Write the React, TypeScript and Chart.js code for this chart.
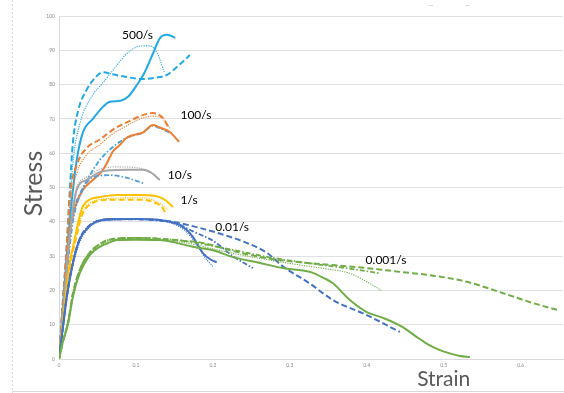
import { useEffect, useRef } from 'react';
import { Chart, registerables } from 'chart.js';

Chart.register(...registerables);

type P = [number, number];

// ---- tick values ----
const xTickValues = [0, 0.1, 0.2, 0.3, 0.4, 0.5, 0.6];
const yTickValues = [0, 10, 20, 30, 40, 50, 60, 70, 80, 90, 100];
const xMax = 0.655;

// ---- 500/s ----
const r500Solid: P[] = [[0,0],[0.005,15],[0.01,30],[0.014,40],[0.018,49],[0.023,58],[0.031,66],[0.044,70],[0.057,73.5],[0.066,75],[0.08,75.3],[0.09,76.5],[0.1,79.5],[0.11,83],[0.122,89],[0.131,93.5],[0.14,94.5],[0.148,94],[0.151,93.6]];
const r500Dashed: P[] = [[0,0],[0.005,17],[0.01,33],[0.014,49],[0.018,63],[0.025,72.5],[0.036,78.5],[0.047,82],[0.057,83.6],[0.07,83],[0.088,82.2],[0.109,81.6],[0.125,82],[0.14,82.8],[0.155,85.5],[0.17,88.6]];
const r500Dotted: P[] = [[0,0],[0.005,15],[0.01,30],[0.018,57],[0.027,68.5],[0.044,77],[0.057,80.5],[0.066,83],[0.088,89],[0.105,91.2],[0.118,91.3],[0.128,89],[0.137,83.5]];

// ---- 100/s ----
const r100Solid: P[] = [[0,0],[0.005,13],[0.01,26],[0.014,36.5],[0.021,44.3],[0.031,49.3],[0.044,52.2],[0.055,54.5],[0.062,57],[0.07,60.5],[0.079,62.4],[0.088,64.5],[0.1,65.5],[0.109,66],[0.122,68.2],[0.131,67.5],[0.144,66.2],[0.156,63.3]];
const r100Dashed: P[] = [[0,0],[0.005,16],[0.01,32],[0.014,47],[0.023,56.5],[0.036,61.5],[0.053,64],[0.066,66.2],[0.075,67.6],[0.088,69],[0.109,71.1],[0.122,71.7],[0.135,70.3],[0.142,67.6]];
const r100Dotted: P[] = [[0,0],[0.005,15],[0.01,30],[0.014,44],[0.023,54],[0.036,59.5],[0.053,62.5],[0.066,65],[0.088,68],[0.109,70.3],[0.122,70.8],[0.135,70],[0.144,67.3]];
const r100DashDot: P[] = [[0,0],[0.005,13],[0.01,25],[0.018,42],[0.027,48],[0.036,52],[0.053,58],[0.07,61.8],[0.088,64.5],[0.109,66],[0.122,68],[0.131,67.3],[0.144,66]];

// ---- 10/s ----
const r10Solid: P[] = [[0,0],[0.005,13],[0.01,26],[0.015,38],[0.023,49.3],[0.036,52.2],[0.053,54.5],[0.066,55],[0.088,55.2],[0.109,55.2],[0.12,54.3],[0.131,52.2]];
const r10Dotted: P[] = [[0,0],[0.005,13],[0.01,27],[0.015,40],[0.023,50],[0.036,53],[0.053,55.3],[0.075,56],[0.1,55.8],[0.115,55],[0.125,53.6]];
const r10DashDot: P[] = [[0,0],[0.005,12],[0.01,24],[0.018,40],[0.03,49],[0.044,53],[0.066,53.6],[0.088,52.8],[0.105,51.6],[0.11,51.2]];

// ---- 1/s ----
const r1Solid: P[] = [[0,0],[0.005,11],[0.01,21],[0.014,28],[0.021,35.6],[0.026,41],[0.031,44.5],[0.04,46.5],[0.053,47.2],[0.075,47.8],[0.109,47.8],[0.131,47.2],[0.14,46],[0.148,44.3]];
const r1Dashed: P[] = [[0,0],[0.005,10],[0.01,20],[0.015,28],[0.022,35],[0.03,42],[0.04,45],[0.066,46.4],[0.109,46.4],[0.125,45.5],[0.135,44],[0.138,42.6]];
const r1Dotted: P[] = [[0,0],[0.005,10.5],[0.01,20.5],[0.015,29],[0.022,36],[0.03,42.5],[0.04,45.5],[0.066,46.8],[0.109,47],[0.13,45.5],[0.142,43.5]];

// ---- 0.01/s ----
const r001Solid: P[] = [[0,0],[0.005,9],[0.01,18],[0.018,28],[0.027,35],[0.036,37.8],[0.044,39.5],[0.066,40.8],[0.1,40.8],[0.131,40.5],[0.153,39.4],[0.165,37.8],[0.174,35.6],[0.187,30.9],[0.197,29],[0.205,28.2]];
const r001Dotted: P[] = [[0,0],[0.005,9],[0.01,17],[0.018,27],[0.027,34],[0.036,37.5],[0.044,39.2],[0.066,40.5],[0.1,40.7],[0.131,40.3],[0.153,39],[0.168,36.5],[0.18,33],[0.19,29.5],[0.2,27]];
const r001Dashed: P[] = [[0,0],[0.005,9],[0.01,18],[0.018,28],[0.027,35],[0.04,39],[0.066,40.7],[0.1,40.8],[0.131,40.5],[0.153,39.8],[0.183,38.2],[0.21,36.5],[0.24,34.2],[0.27,31],[0.291,27],[0.326,22],[0.356,17.2],[0.4,12.8],[0.443,7.9]];
const r001DashDot: P[] = [[0,0],[0.005,9],[0.01,18],[0.018,28],[0.027,35],[0.04,39],[0.066,40.6],[0.1,40.7],[0.131,40.3],[0.153,39.5],[0.174,37.2],[0.2,34.5],[0.226,30],[0.252,26.5]];

// ---- 0.001/s ----
const r0001Solid: P[] = [[0,0],[0.005,5],[0.012,10.5],[0.018,18],[0.027,25],[0.04,30.3],[0.053,32.7],[0.066,34],[0.075,34.7],[0.1,34.8],[0.131,34.7],[0.15,34],[0.174,32.7],[0.2,31.7],[0.226,29.7],[0.261,28],[0.291,26.5],[0.326,25.4],[0.345,23.5],[0.356,22.1],[0.378,17.2],[0.4,13.7],[0.421,12],[0.445,9.5],[0.465,6.4],[0.48,4.2],[0.495,2.6],[0.51,1.5],[0.521,0.9],[0.534,0.6]];
const r0001Dashed: P[] = [[0,0],[0.005,5],[0.012,11],[0.018,19],[0.027,26],[0.04,31],[0.053,33.5],[0.066,34.8],[0.1,35.3],[0.131,35],[0.16,34.5],[0.183,34],[0.226,31.5],[0.27,29.4],[0.313,28.2],[0.356,27.4],[0.4,26.5],[0.443,25.4],[0.49,24.2],[0.53,22.5],[0.573,19.5],[0.616,16.3],[0.648,14.3]];
const r0001DashDot: P[] = [[0,0],[0.005,5],[0.012,11],[0.018,19],[0.027,26],[0.04,31],[0.053,33.5],[0.066,34.8],[0.1,35.3],[0.16,34.5],[0.226,31.8],[0.27,29.8],[0.313,28.3],[0.356,27],[0.4,25.6],[0.416,25]];
const r0001Dotted: P[] = [[0,0],[0.005,5],[0.012,10.8],[0.018,18.5],[0.027,25.5],[0.04,30.6],[0.053,33],[0.066,34.5],[0.1,35],[0.16,34],[0.226,30.8],[0.27,29],[0.313,27.4],[0.35,26.2],[0.378,25],[0.4,22.5],[0.419,20]];

// ---- annotations ----
const rateLabels = ['500/s', '100/s', '10/s', '1/s', '0.01/s', '0.001/s'];
const rateLabelX = [0.102, 0.178, 0.157, 0.169, 0.225, 0.425];
const rateLabelY = [94.5, 71.1, 53.6, 46.4, 38.5, 28.9];
const xTitle = 'Strain';
const yTitle = 'Stress';

const C500 = '#21A9E6';
const C100 = '#ED7D31';
const C10 = '#A5A5A5';
const C1 = '#FFC000';
const C001 = '#4472C4';
const C0001 = '#70AD47';
const CBLUE2 = '#3DA2DF';
const CBLUE3 = '#5B9BD5';

const STYLES: Record<string, { w: number; dash: number[] }> = {
  solid: { w: 2, dash: [] },
  dashed: { w: 2, dash: [6, 3] },
  dotted: { w: 1.1, dash: [1.2, 1.2] },
  dashdot: { w: 1.8, dash: [5, 2, 1.5, 2] },
};

const seriesList: { data: P[]; color: string; style: string }[] = [
  { data: r0001Solid, color: C0001, style: 'solid' },
  { data: r0001Dashed, color: C0001, style: 'dashed' },
  { data: r0001DashDot, color: C0001, style: 'dashdot' },
  { data: r0001Dotted, color: C0001, style: 'dotted' },
  { data: r001Solid, color: C001, style: 'solid' },
  { data: r001Dotted, color: C001, style: 'dotted' },
  { data: r001Dashed, color: C001, style: 'dashed' },
  { data: r001DashDot, color: C001, style: 'dashdot' },
  { data: r1Solid, color: C1, style: 'solid' },
  { data: r1Dashed, color: C1, style: 'dashed' },
  { data: r1Dotted, color: C1, style: 'dotted' },
  { data: r10Solid, color: C10, style: 'solid' },
  { data: r10Dotted, color: C10, style: 'dotted' },
  { data: r10DashDot, color: CBLUE3, style: 'dashdot' },
  { data: r100Solid, color: C100, style: 'solid' },
  { data: r100DashDot, color: CBLUE2, style: 'dashdot' },
  { data: r100Dashed, color: C100, style: 'dashed' },
  { data: r100Dotted, color: C100, style: 'dotted' },
  { data: r500Solid, color: C500, style: 'solid' },
  { data: r500Dashed, color: C500, style: 'dashed' },
  { data: r500Dotted, color: C500, style: 'dotted' },
];

const overlay = {
  id: 'overlay',
  beforeDraw(chart: any) {
    const ctx = chart.ctx as CanvasRenderingContext2D;
    ctx.save();
    ctx.fillStyle = '#ffffff';
    ctx.fillRect(0, 0, chart.width, chart.height);
    ctx.strokeStyle = '#d9d9d9';
    ctx.lineWidth = 1;
    ctx.setLineDash([2, 2]);
    ctx.beginPath();
    ctx.moveTo(12.5, 0);
    ctx.lineTo(12.5, chart.height);
    ctx.stroke();
    ctx.setLineDash([]);
    ctx.beginPath();
    ctx.moveTo(12, chart.height - 1.5);
    ctx.lineTo(chart.width, chart.height - 1.5);
    ctx.stroke();
    ctx.restore();
  },
  afterDraw(chart: any) {
    const ctx = chart.ctx as CanvasRenderingContext2D;
    const xs = chart.scales.x;
    const ys = chart.scales.y;
    const area = chart.chartArea;
    ctx.save();
    ctx.fillStyle = '#000000';
    ctx.font = '12px Lato';
    ctx.textAlign = 'center';
    ctx.textBaseline = 'middle';
    rateLabels.forEach((t, i) => {
      ctx.fillText(t, xs.getPixelForValue(rateLabelX[i]), ys.getPixelForValue(rateLabelY[i]));
    });
    ctx.fillStyle = '#595959';
    ctx.font = '21px Lato';
    ctx.fillText(xTitle, xs.getPixelForValue(0.5), area.bottom + 20);
    ctx.save();
    ctx.translate(area.left - 25, (area.top + area.bottom) / 2 - 4);
    ctx.rotate(-Math.PI / 2);
    ctx.font = '25px Lato';
    ctx.fillText(yTitle, 0, 0);
    ctx.restore();
    ctx.fillStyle = '#bfbfbf';
    ctx.font = '9px Lato';
    ctx.fillText('–', 431, 5);
    ctx.fillText('–', 467, 5);
    ctx.restore();
  },
};

export default function App() {
  const ref = useRef<HTMLCanvasElement>(null);
  useEffect(() => {
    document.body.style.margin = '0';
    const datasets = seriesList.map((s) => ({
      data: s.data.map(([x, y]) => ({ x, y })),
      borderColor: s.color,
      backgroundColor: s.color,
      borderWidth: STYLES[s.style].w,
      borderDash: STYLES[s.style].dash,
      pointRadius: 0,
      fill: false,
      cubicInterpolationMode: 'monotone' as const,
    }));
    const chart = new Chart(ref.current!, {
      type: 'line',
      data: { datasets },
      plugins: [overlay],
      options: {
        animation: false,
        responsive: false,
        layout: { padding: { top: 16, right: 1, left: 0, bottom: 0 } },
        plugins: { legend: { display: false }, tooltip: { enabled: false } },
        scales: {
          x: {
            type: 'linear',
            min: 0,
            max: xMax,
            afterBuildTicks: (s: any) => {
              s.ticks = xTickValues.map((v) => ({ value: v }));
            },
            afterFit: (s: any) => {
              s.height = 34;
            },
            grid: { display: false, drawTicks: false },
            border: { display: true, color: '#d9d9d9' },
            ticks: {
              font: { size: 5, family: 'Lato' },
              color: '#8c8c8c',
              padding: 3,
              maxRotation: 0,
              callback: (v: any) => String(v),
            },
          },
          y: {
            type: 'linear',
            min: 0,
            max: 100,
            afterBuildTicks: (s: any) => {
              s.ticks = yTickValues.map((v) => ({ value: v }));
            },
            afterFit: (s: any) => {
              s.width = 59;
            },
            grid: { color: '#e0e0e0', lineWidth: 1, drawTicks: false },
            border: { display: true, color: '#d9d9d9' },
            ticks: {
              font: { size: 5, family: 'Lato' },
              color: '#8c8c8c',
              padding: 4,
            },
          },
        },
      },
    });
    return () => chart.destroy();
  }, []);
  return (
    <div style={{ width: 564, height: 393 }}>
      <canvas ref={ref} width={564} height={393} />
    </div>
  );
}
